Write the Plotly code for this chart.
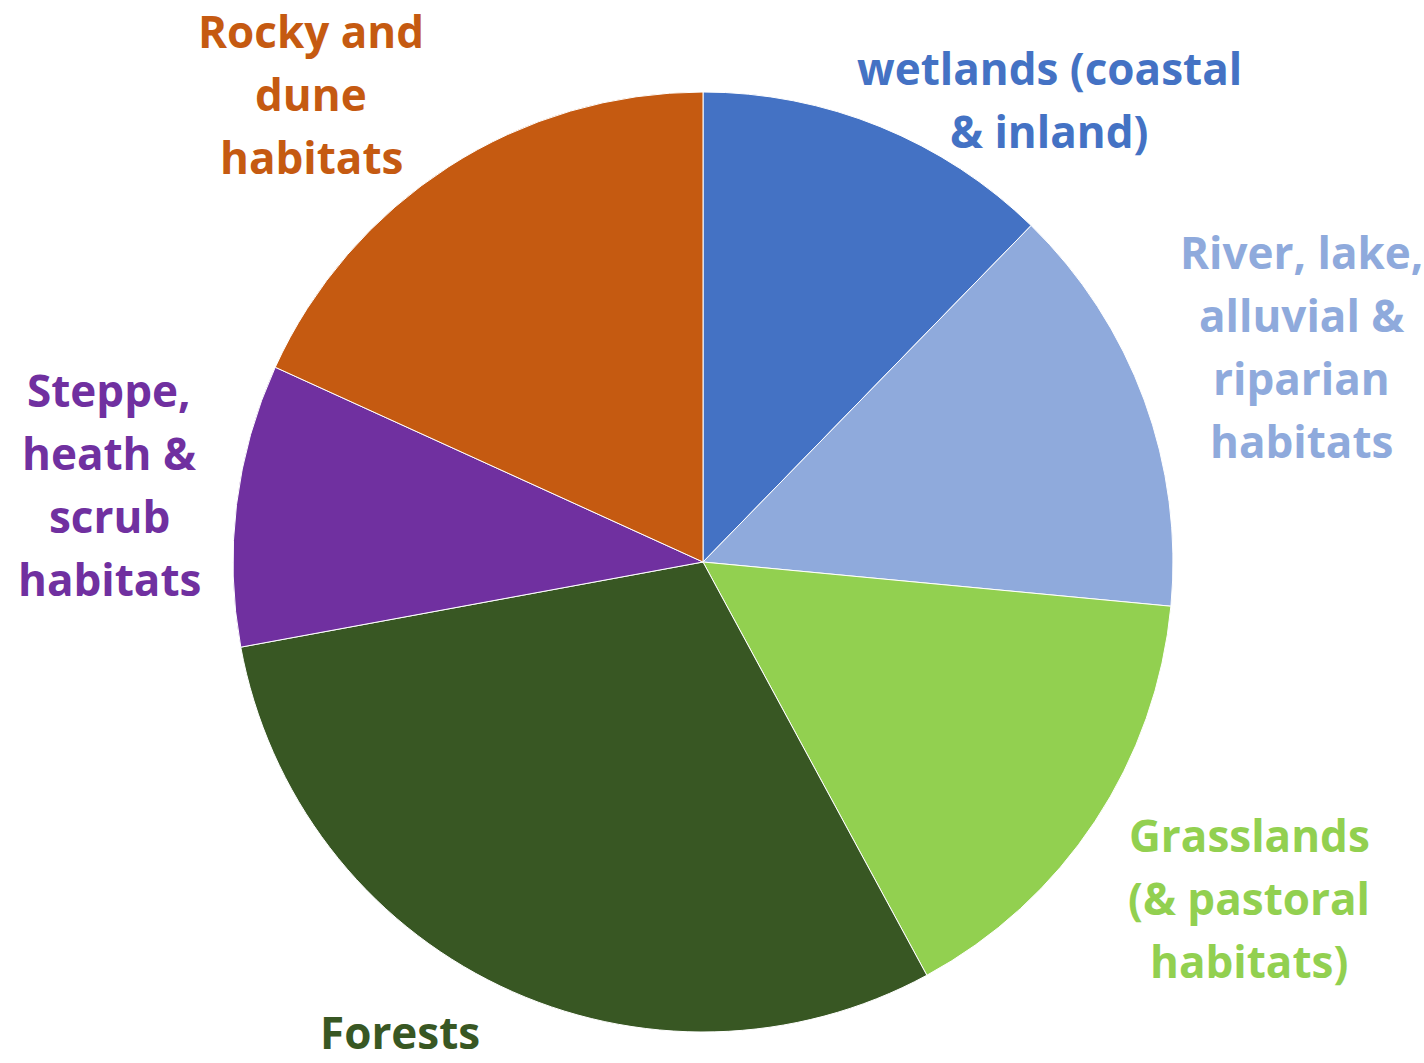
import plotly.graph_objects as go

# Data
habitats = [
    "wetlands (coastal<br>& inland)",
    "River, lake,<br>alluvial &<br>riparian<br>habitats",
    "Grasslands<br>(& pastoral<br>habitats)",
    "Forests",
    "Steppe,<br>heath &<br>scrub<br>habitats",
    "Rocky and<br>dune<br>habitats",
]
shares = [12.3, 14.2, 15.6, 30.0, 9.7, 18.2]
colors = ["#4472C4", "#8FAADC", "#92D050", "#385723", "#7030A0", "#C55A11"]

W, H = 1424, 1063
cx, cy, r = 703, 562, 470

# label placement (pixel centre x, first-line baseline y)
label_pos = [(1049, 84), (1301, 268), (1249, 851), (400, 1048), (109, 406), (311, 47)]
line_gap = 63
fs = 44

fig = go.Figure(go.Pie(
    labels=habitats,
    values=shares,
    sort=False,
    direction="clockwise",
    rotation=0,
    marker=dict(colors=colors, line=dict(color="white", width=1)),
    textinfo="none",
    hoverinfo="label+percent",
    showlegend=False,
    domain=dict(x=[(cx - r) / W, (cx + r) / W],
                y=[(H - cy - r) / H, (H - cy + r) / H]),
))

annotations = []
for lab, col, (x0, y0) in zip(habitats, colors, label_pos):
    for i, line in enumerate(lab.split("<br>")):
        by = y0 + i * line_gap
        annotations.append(dict(
            text=line, x=x0 / W, y=1 - (by - 0.36 * fs) / H,
            xref="paper", yref="paper", xanchor="center", yanchor="middle",
            showarrow=False,
            font=dict(family="Open Sans", size=fs, color=col, weight="bold"),
        ))

fig.update_layout(
    width=W, height=H,
    margin=dict(l=0, r=0, t=0, b=0),
    paper_bgcolor="white", plot_bgcolor="white",
    annotations=annotations,
)

fig.write_html("out.html")
